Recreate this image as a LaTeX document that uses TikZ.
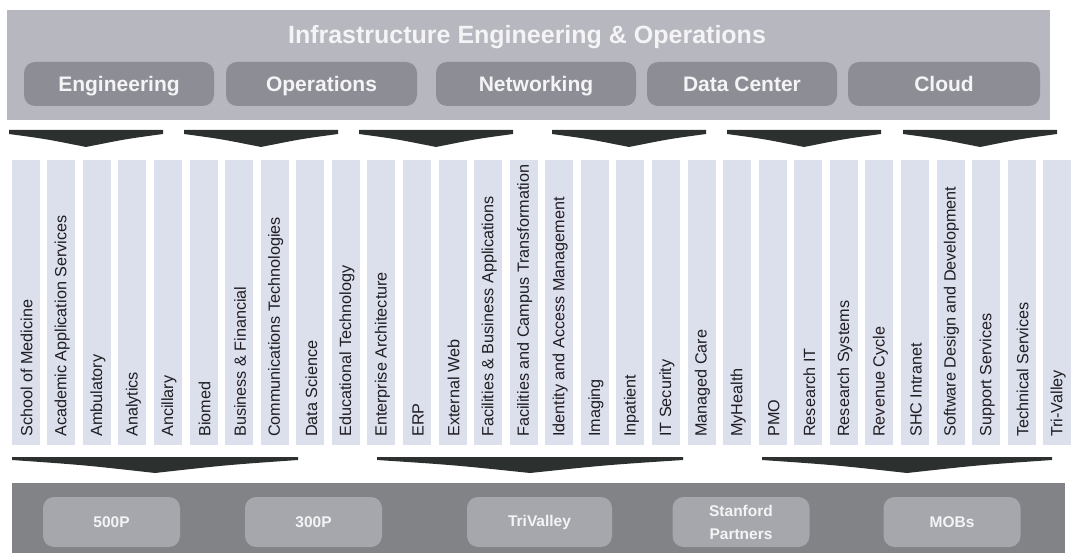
\documentclass[tikz,border=0pt]{standalone}
\usepackage{fontspec}
\setmainfont{Liberation Sans}
\definecolor{topband}{HTML}{B6B7BF}
\definecolor{toppill}{HTML}{8D8E95}
\definecolor{colfill}{HTML}{DCDFEC}
\definecolor{coltxt}{HTML}{1E1E22}
\definecolor{chevron}{HTML}{2C312F}
\definecolor{botband}{HTML}{828387}
\definecolor{botpill}{HTML}{A6A7AC}
\definecolor{paletext}{HTML}{F4F4F6}
\begin{document}
\begin{tikzpicture}[x=1pt,y=-1pt,
  tpill/.style={fill=toppill,rounded corners=11pt,minimum height=44pt,inner sep=0pt,
    text height=16pt,text depth=0pt,
    text=paletext,font=\fontsize{21}{24}\selectfont\bfseries},
  bpill/.style={fill=botpill,rounded corners=11pt,minimum height=50pt,minimum width=137pt,inner sep=0pt,
    text=paletext,align=center,font=\fontsize{15.5}{23}\selectfont\bfseries},
  colbox/.style={fill=colfill,minimum width=28pt,minimum height=285pt,inner sep=0pt},
  coltext/.style={rotate=90,anchor=west,inner sep=0pt,text=coltxt,font=\fontsize{16.2}{18}\selectfont},
  chev/.style={fill=chevron,draw=none}]
\useasboundingbox (0,0) rectangle (1079,553);

% top band with the five service groups
\fill[topband] (7,10) rectangle (1050,120);
\node[text=paletext,font=\fontsize{25}{28}\selectfont\bfseries] (title) at (527,37) {Infrastructure Engineering \& Operations};
\node[tpill,minimum width=190pt] (eng)   at (119,84)   {Engineering};
\node[tpill,minimum width=191pt] (ops)   at (321.5,84) {Operations};
\node[tpill,minimum width=200pt] (net)   at (536,84)   {Networking};
\node[tpill,minimum width=190pt] (dc)    at (742,84)   {Data Center};
\node[tpill,minimum width=192pt] (cloud) at (944,84)   {Cloud};

% downward chevrons under the top band
\foreach \c in {86,261,436,629,804,980}{
  \fill[chev] (\c-77,130) -- (\c+77,130) -- (\c+77,134)
    .. controls (\c+40,139) .. (\c,147) .. controls (\c-40,139) .. (\c-77,134) -- cycle;
}

% application columns
\foreach \t [count=\i] in {School of Medicine,Academic Application Services,Ambulatory,Analytics,Ancillary,Biomed,Business \& Financial,Communications Technologies,Data Science,Educational Technology,Enterprise Architecture,ERP,External Web,Facilities \& Business Applications,Facilities and Campus Transformation,Identity and Access Management,Imaging,Inpatient,IT Security,Managed Care,MyHealth,PMO,Research IT,Research Systems,Revenue Cycle,SHC Intranet,Software Design and Development,Support Services,Technical Services,Tri-Valley}{
  \pgfmathsetmacro\cx{11.7+(\i-1)*35.57+14}
  \node[colbox] (c\i) at (\cx,302.5) {};
  \node[coltext] (t\i) at (\cx+1,437) {\t};
}

% wide chevrons above the bottom band
\foreach \c/\w in {155/143,530/153,907/145}{
  \fill[chev] (\c-\w,457) -- (\c+\w,457) -- (\c+\w,460)
    .. controls (\c+\w*0.5,465) .. (\c,473) .. controls (\c-\w*0.5,465) .. (\c-\w,460) -- cycle;
}

% bottom band with the sites
\fill[botband] (12,483) rectangle (1065,553);
\node[bpill] (p500) at (111.5,522) {500P};
\node[bpill] (p300) at (313.5,522) {300P};
\node[bpill,minimum width=145pt] (tri) at (539.5,522) {TriValley};
\node[bpill] (stan) at (741,522) {Stanford\\Partners};
\node[bpill] (mobs) at (952,522) {MOBs};
\end{tikzpicture}
\end{document}
